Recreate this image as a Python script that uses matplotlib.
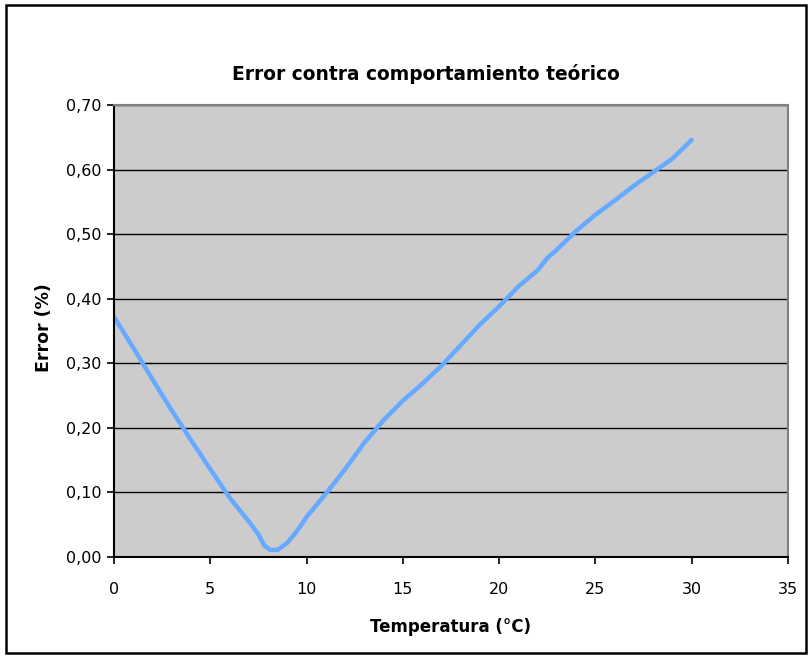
import matplotlib.pyplot as plt
from matplotlib.patches import Rectangle
from matplotlib.ticker import FuncFormatter

temp = [0, 1, 2, 3, 4, 5, 6, 7, 7.5, 7.8, 8.1, 8.5, 9, 9.5, 10, 11, 12, 13, 14,
        15, 16, 17, 18, 19, 20, 21, 22, 22.5, 23, 24, 25, 26, 27, 28, 29, 30]
error = [0.372, 0.324, 0.275, 0.227, 0.181, 0.136, 0.092, 0.055, 0.035, 0.018,
         0.011, 0.011, 0.022, 0.040, 0.062, 0.098, 0.136, 0.177, 0.212,
         0.242, 0.268, 0.296, 0.328, 0.360, 0.388, 0.419, 0.444, 0.463, 0.476,
         0.505, 0.530, 0.552, 0.575, 0.596, 0.617, 0.646]

fig = plt.figure(figsize=(8.12, 6.56), dpi=100)
fig.patches.append(Rectangle((6 / 812, 3 / 656), 800 / 812, 648 / 656,
                             transform=fig.transFigure, fill=False,
                             edgecolor='black', linewidth=1.8))

ax = fig.add_axes([114 / 812, 1 - 557 / 656, 674 / 812, 452 / 656])
ax.set_facecolor('#cccccc')
ax.plot(temp, error, color='#66aaff', linewidth=3.2, solid_capstyle='round')

ax.set_xlim(0, 35)
ax.set_ylim(0, 0.70)
ax.set_xticks(range(0, 36, 5))
ax.set_yticks([i / 10 for i in range(8)])
ax.yaxis.set_major_formatter(FuncFormatter(lambda v, p: f'{v:.2f}'.replace('.', ',')))
ax.grid(axis='y', color='black', linewidth=1)
ax.set_axisbelow(True)
ax.tick_params(direction='out', length=5, width=1.2, labelsize=11.5, pad=4)
ax.tick_params(axis='x', pad=13)

for s in ['top', 'right']:
    ax.spines[s].set_color('#808080')
    ax.spines[s].set_linewidth(1.5)
for s in ['left', 'bottom']:
    ax.spines[s].set_color('black')
    ax.spines[s].set_linewidth(1.5)

fig.text(426 / 812, 1 - 74 / 656, 'Error contra comportamiento teórico',
         fontsize=13.4, fontweight='bold', ha='center', va='center')
fig.text(451 / 812, 1 - 627 / 656, 'Temperatura (°C)', fontsize=12,
         fontweight='bold', ha='center', va='center')
fig.text(44 / 812, 1 - 328 / 656, 'Error (%)', fontsize=12.5,
         fontweight='bold', ha='center', va='center', rotation=90)

fig.savefig('out.png', dpi=100)
